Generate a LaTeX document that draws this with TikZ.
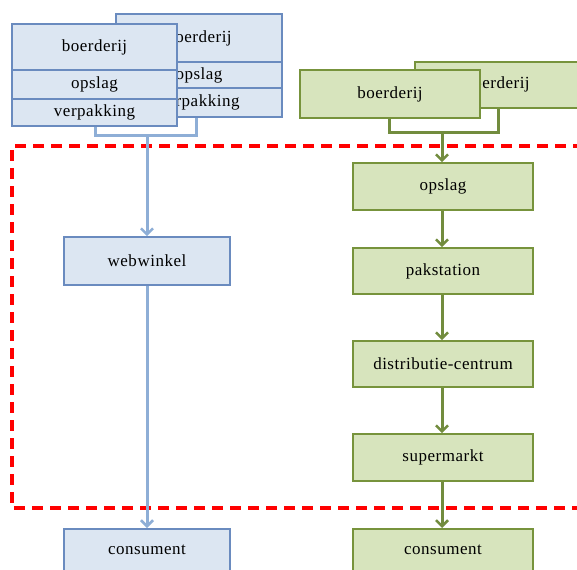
\documentclass[tikz,border=0pt]{standalone}
\usepackage{fontspec}
\setmainfont{Liberation Serif}[LetterSpace=3]
\usetikzlibrary{arrows.meta}
\definecolor{bfill}{HTML}{DCE6F2}
\definecolor{bdraw}{HTML}{6A8BBF}
\definecolor{bline}{HTML}{8EAED6}
\definecolor{gfill}{HTML}{D7E4BD}
\definecolor{gdraw}{HTML}{77933C}
\definecolor{gline}{HTML}{728C3E}
\tikzset{
  txt/.style={font=\fontsize{17}{19}\selectfont, text=black},
  bbox/.style={draw=bdraw, fill=bfill, line width=1.8pt, rectangle, inner sep=0pt, txt},
  gbox/.style={draw=gdraw, fill=gfill, line width=1.8pt, rectangle, inner sep=0pt, txt},
  bcon/.style={draw=bline, line width=3pt},
  gcon/.style={draw=gline, line width=3pt},
  tip/.style={-{Straight Barb[length=6pt,width=12pt,line width=2.5pt]}},
}
\begin{document}
\begin{tikzpicture}[x=1pt,y=-1pt]
\useasboundingbox (0,0) rectangle (577,569);
\clip (0,0) rectangle (577,569);
% red dashed region
\draw[red, line width=3.5pt, dash pattern=on 11pt off 7pt] (620,146) -- (12,146) -- (12,508) -- (620,508);
% left blue back stack
\node[bbox, minimum width=166pt, minimum height=48pt] (bb1) at (199,38) {boerderij};
\node[bbox, minimum width=166pt, minimum height=26pt] (bb2) at (199,75) {opslag};
\node[bbox, minimum width=166pt, minimum height=29pt] (bb3) at (199,102.5) {verpakking};
% left blue front stack
\node[bbox, minimum width=165pt, minimum height=46pt] (bf1) at (94.5,47) {boerderij};
\node[bbox, minimum width=165pt, minimum height=29pt] (bf2) at (94.5,84.5) {opslag};
\node[bbox, minimum width=165pt, minimum height=27pt] (bf3) at (94.5,112.5) {verpakking};
\coordinate (bj) at (147,136);
\draw[bcon] (bf3.south -| 95,0) |- (bj) -| (bb3.south -| 196,0);
\node[bbox, minimum width=166pt, minimum height=48pt] (web) at (147,261) {webwinkel};
\node[bbox, minimum width=166pt, minimum height=48pt, anchor=north] (bcons) at (147,528) {};
\node[txt] (bconst) at (147,550) {consument};
\draw[bcon, tip] (bj) -- (web.north);
\draw[bcon, tip] (web.south) -- (bcons.north);
% right green
\node[gbox, minimum width=186pt, minimum height=46pt, anchor=north west] (gb) at (414,61) {};
\node[txt] (gbt) at (497,84) {boerderij};
\node[gbox, minimum width=180pt, minimum height=48pt] (gf) at (390,94) {boerderij};
\coordinate (gj) at (442,133);
\draw[gcon] (gf.south -| 389,0) |- (gj) -| (gb.south -| 498,0);
\node[gbox, minimum width=180pt, minimum height=47pt] (g1) at (443,186.5) {opslag};
\node[gbox, minimum width=180pt, minimum height=46pt] (g2) at (443,271) {pakstation};
\node[gbox, minimum width=180pt, minimum height=46pt] (g3) at (443,364) {distributie-centrum};
\node[gbox, minimum width=180pt, minimum height=47pt] (g4) at (443,457.5) {supermarkt};
\node[gbox, minimum width=180pt, minimum height=48pt, anchor=north] (gcons) at (443,528) {};
\node[txt] (gconst) at (443,550) {consument};
\draw[gcon, tip] (gj) -- (gj |- g1.north);
\draw[gcon, tip] (g1.south -| 442,0) -- (g2.north -| 442,0);
\draw[gcon, tip] (g2.south -| 442,0) -- (g3.north -| 442,0);
\draw[gcon, tip] (g3.south -| 442,0) -- (g4.north -| 442,0);
\draw[gcon, tip] (g4.south -| 442,0) -- (gcons.north -| 442,0);
\end{tikzpicture}
\end{document}
